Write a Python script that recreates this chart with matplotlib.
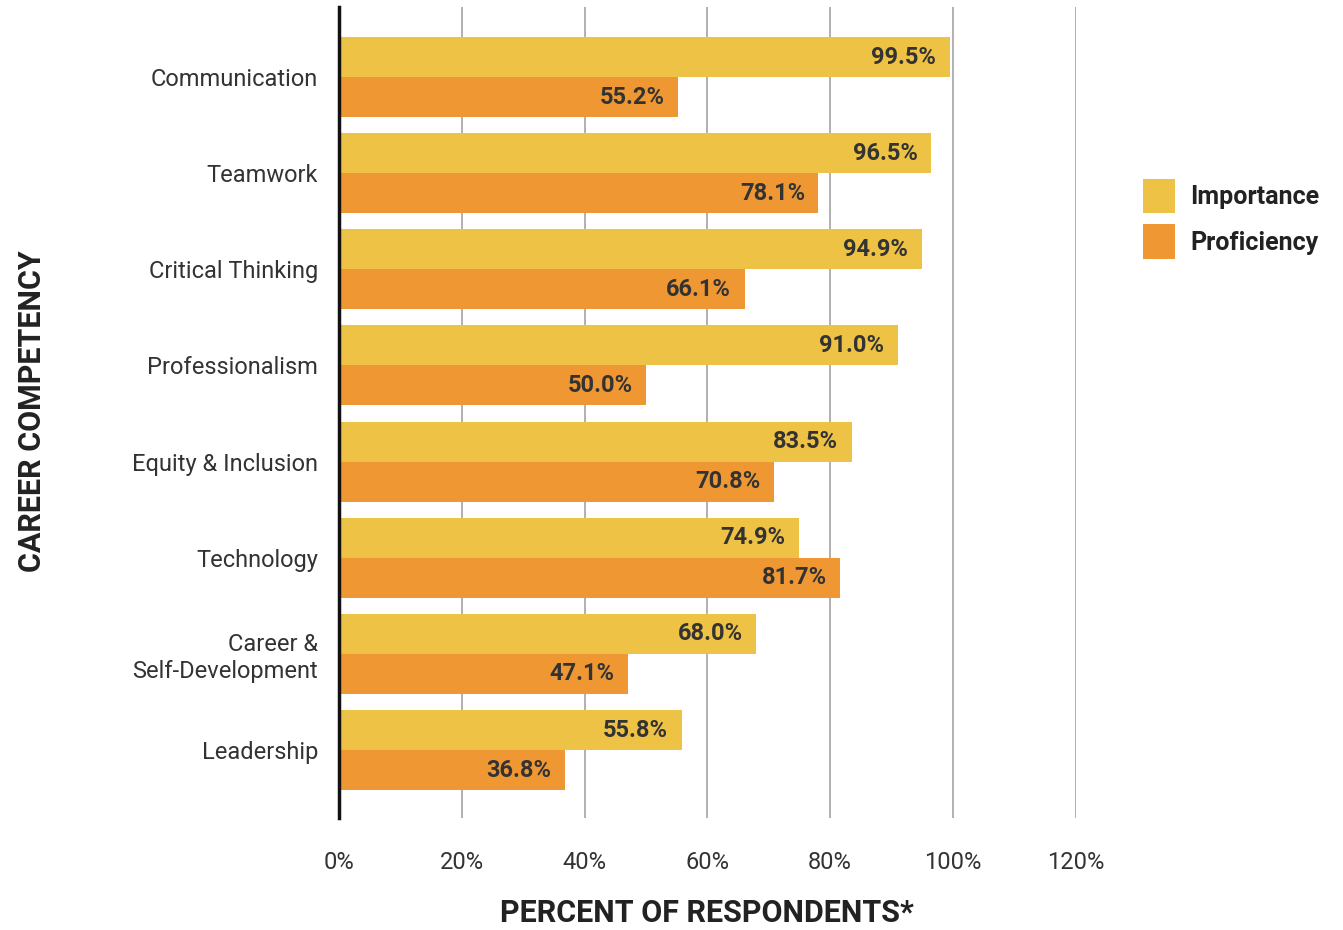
import matplotlib.pyplot as plt
import numpy as np

plt.rcParams['font.family'] = ['Roboto', 'DejaVu Sans']

# Dane
competencies = ['Communication', 'Teamwork', 'Critical Thinking', 'Professionalism',
                'Equity & Inclusion', 'Technology', 'Career &\nSelf-Development', 'Leadership']
importance = [99.5, 96.5, 94.9, 91.0, 83.5, 74.9, 68.0, 55.8]
proficiency = [55.2, 78.1, 66.1, 50.0, 70.8, 81.7, 47.1, 36.8]
x_ticks = [0, 20, 40, 60, 80, 100, 120]

col_imp = '#EEC244'
col_prof = '#EF9833'
txt_col = '#333333'

fig = plt.figure(figsize=(13.43, 9.30), dpi=100)
ax = fig.add_axes([0.2524, 0.1204, 0.5485, 0.872])

y = np.arange(len(competencies))
h = 0.416

ax.barh(y - h / 2, importance, height=h, color=col_imp, label='Importance', zorder=2)
ax.barh(y + h / 2, proficiency, height=h, color=col_prof, label='Proficiency', zorder=2)

# Etykiety wartości wewnątrz słupków
for i in range(len(competencies)):
    ax.text(importance[i] - 2.2, y[i] - h / 2, f'{importance[i]:.1f}%', ha='right', va='center',
            fontsize=17, fontweight='bold', color=txt_col, zorder=3)
    ax.text(proficiency[i] - 2.2, y[i] + h / 2, f'{proficiency[i]:.1f}%', ha='right', va='center',
            fontsize=17, fontweight='bold', color=txt_col, zorder=3)

ax.set_xlim(0, 120)
ax.set_ylim(7.707, -0.728)
ax.set_xticks(x_ticks)
ax.set_xticklabels([f'{t}%' for t in x_ticks], fontsize=17, color=txt_col)
ax.set_yticks(y)
ax.set_yticklabels(competencies, fontsize=17, color=txt_col, linespacing=1.2)
ax.tick_params(axis='both', length=0)
ax.tick_params(axis='x', pad=24)
ax.tick_params(axis='y', pad=15)

ax.grid(True, axis='x', color='#AAAAAA', linewidth=1.3, zorder=0)
for s in ['top', 'right', 'bottom']:
    ax.spines[s].set_visible(False)
ax.spines['left'].set_linewidth(2.5)
ax.spines['left'].set_color('#111111')
ax.spines['left'].set_zorder(4)

ax.set_xlabel('PERCENT OF RESPONDENTS*', fontsize=22, fontweight='bold', color='#222222', labelpad=17)
fig.text(0.024, 0.558, 'CAREER COMPETENCY', rotation=90, fontsize=22, fontweight='bold',
         color='#222222', ha='center', va='center')

leg = fig.legend(loc='upper left', bbox_to_anchor=(0.851, 0.808), frameon=False,
                 borderpad=0, borderaxespad=0,
                 fontsize=18, handlelength=1.3, handleheight=1.75, handletextpad=0.6,
                 labelspacing=0.45)
for t in leg.get_texts():
    t.set_fontweight('bold')
    t.set_color('#222222')

plt.savefig('out.png', dpi=100)
